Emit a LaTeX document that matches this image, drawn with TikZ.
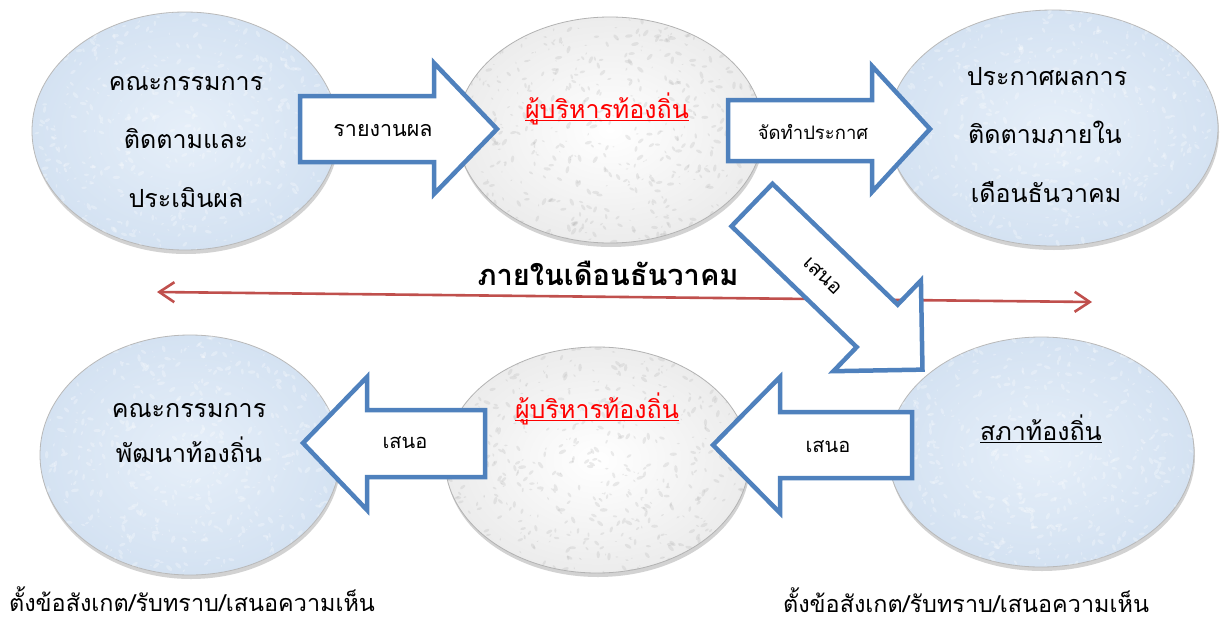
\documentclass[tikz,border=0pt]{standalone}
\usepackage{fontspec}
\setmainfont[Script=Thai]{Loma}
\usetikzlibrary{arrows.meta,shadows}
\definecolor{arrowblue}{HTML}{4F81BD}
\definecolor{linered}{HTML}{C0504D}
\definecolor{bubin}{HTML}{E6EFF9}
\definecolor{bubout}{HTML}{D4E2F2}
\definecolor{grin}{HTML}{FFFFFF}
\definecolor{grout}{HTML}{ECECEC}
\tikzset{
  bluebub/.style={inner color=bubin, outer color=bubout, draw=gray!55, line width=0.8pt,
    drop shadow={opacity=0.35, shadow xshift=1pt, shadow yshift=-4pt}},
  greybub/.style={inner color=grin, outer color=grout, draw=gray!60, line width=0.8pt,
    drop shadow={opacity=0.35, shadow xshift=1pt, shadow yshift=-4pt}},
  blockarrow/.style={draw=arrowblue, fill=white, line width=4.5pt, line join=miter},
  bigtxt/.style={font=\fontsize{25}{28}\selectfont, anchor=base, inner sep=0pt},
  captxt/.style={font=\fontsize{23.4}{28}\selectfont, anchor=base, inner sep=0pt},
  arrtxt/.style={font=\fontsize{20}{24}\selectfont, inner sep=0pt},
  redline/.style={draw=linered, line width=2.6pt, {Straight Barb[length=15pt,width=20pt]}-{Straight Barb[length=15pt,width=20pt]}}
}
\newlength\ulw
\newcommand{\myul}[1]{\settowidth\ulw{#1}\rlap{\rule[-3pt]{\ulw}{1.3pt}}#1}
\newcommand{\speckle}[5]{%
  \begin{scope}
    \clip (#1,#2) ellipse [x radius=#3, y radius=#4];
    \pgfmathsetseed{#1}
    \foreach \k in {1,...,600}{%
      \pgfmathsetmacro{\px}{#1+#3*rand}%
      \pgfmathsetmacro{\py}{#2+#4*rand}%
      \pgfmathsetmacro{\pr}{1+3*rnd}%
      \pgfmathsetmacro{\pa}{180*rnd}%
      \fill[#5, opacity=0.28, rotate around={\pa:(\px,\py)}] (\px,\py) ellipse [x radius=\pr, y radius=0.45*\pr];
    }
  \end{scope}}
\begin{document}
\begin{tikzpicture}[x=1pt,y=-1pt]
\useasboundingbox (0,0) rectangle (1221,624);
\fill[white] (0,0) rectangle (1221,624);

% ellipses
\path[bluebub] (185,131) ellipse [x radius=153, y radius=119];
\speckle{185}{131}{153}{119}{white}
\node (e1) at (185,131) {};
\path[greybub] (610,130) ellipse [x radius=153, y radius=113];
\speckle{610}{130}{153}{113}{gray!55}
\node (e2) at (610,130) {};
\path[bluebub] (1053,128) ellipse [x radius=165, y radius=118];
\speckle{1053}{128}{165}{118}{white}
\node (e3) at (1053,128) {};
\path[bluebub] (190,455) ellipse [x radius=150, y radius=120];
\speckle{190}{455}{150}{120}{white}
\node (e4) at (190,455) {};
\path[greybub] (597,460) ellipse [x radius=152, y radius=113];
\speckle{597}{460}{152}{113}{gray!55}
\node (e5) at (597,460) {};
\path[bluebub] (1041,452) ellipse [x radius=153, y radius=115];
\speckle{1041}{452}{153}{115}{white}
\node (e6) at (1041,452) {};

% red double arrow
\coordinate (rl) at (157,292);
\coordinate (rr) at (1092,302);
\draw[redline] (rl) -- (rr);
\node[font=\bfseries\fontsize{29}{32}\selectfont, anchor=base, inner sep=0pt] (title) at (608,285) {ภายในเดือนธันวาคม};

% block arrows
\draw[blockarrow] (300,96) -- (434,96) -- (434,63) -- (497,129) -- (434,194) -- (434,162) -- (300,162) -- cycle;
\node[arrtxt, font=\fontsize{21.5}{24}\selectfont] (a1) at (383,131) {รายงานผล};
\draw[blockarrow] (728,100) -- (872,100) -- (872,66) -- (930,129) -- (872,192) -- (872,161) -- (728,161) -- cycle;
\node[arrtxt, font=\fontsize{18.5}{22}\selectfont] (a2) at (813,132) {จัดทำประกาศ};
\begin{scope}[shift={(752,205)}, rotate=-44]
\draw[blockarrow] (0,-29.5) -- (174,-29.5) -- (174,-63) -- (237,0) -- (174,63) -- (174,29.5) -- (0,29.5) -- cycle;
\end{scope}
\node[arrtxt, rotate=-44] (a3) at (823,276) {เสนอ};
\draw[blockarrow] (912,412) -- (780,412) -- (780,377) -- (713,445) -- (780,513) -- (780,478) -- (912,478) -- cycle;
\node[arrtxt] (a4) at (828,447) {เสนอ};
\draw[blockarrow] (485,410) -- (367,410) -- (367,377) -- (303,443) -- (367,510) -- (367,477) -- (485,477) -- cycle;
\node[arrtxt] (a5) at (405,443) {เสนอ};

% ellipse texts
\node[bigtxt] (t11) at (186,90) {คณะกรรมการ};
\node[bigtxt] (t12) at (186,148) {ติดตามและ};
\node[bigtxt] (t13) at (186,207) {ประเมินผล};
\node[bigtxt, text=red] (t2) at (607,118) {\myul{ผู้บริหารท้องถิ่น}};
\node[bigtxt] (t31) at (1047,85) {ประกาศผลการ};
\node[bigtxt] (t32) at (1045,143) {ติดตามภายใน};
\node[bigtxt] (t33) at (1046,202) {เดือนธันวาคม};
\node[bigtxt] (t41) at (189,417) {คณะกรรมการ};
\node[bigtxt] (t42) at (189,462) {พัฒนาท้องถิ่น};
\node[bigtxt, text=red] (t5) at (597,418) {\myul{ผู้บริหารท้องถิ่น}};
\node[bigtxt] (t6) at (1041,440) {\myul{สภาท้องถิ่น}};

% bottom captions
\node[captxt] (c1) at (192,611) {ตั้งข้อสังเกต/รับทราบ/เสนอความเห็น};
\node[captxt] (c2) at (966,612) {ตั้งข้อสังเกต/รับทราบ/เสนอความเห็น};
\end{tikzpicture}
\end{document}
